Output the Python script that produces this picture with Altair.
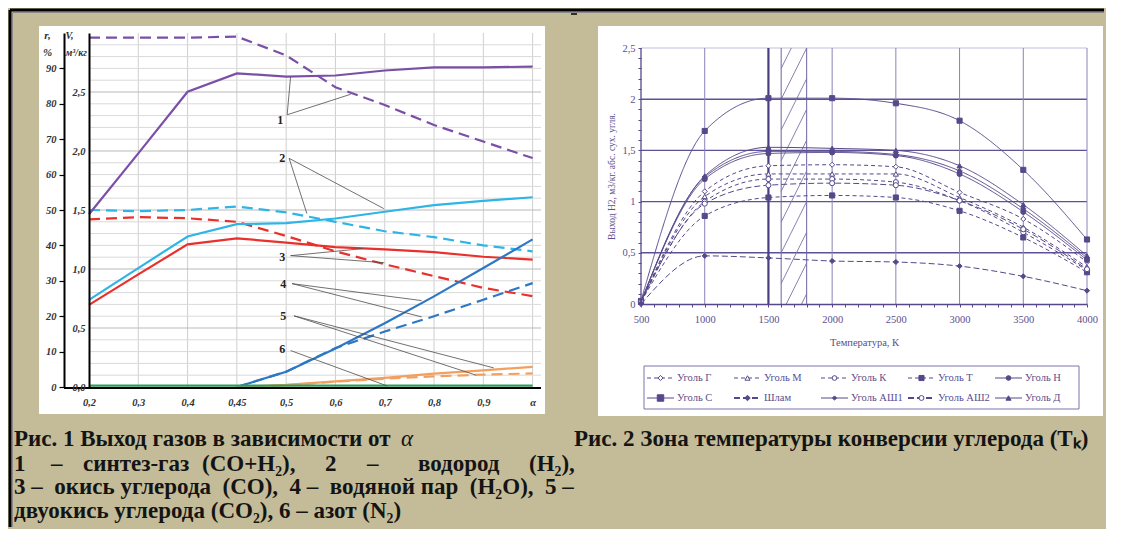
import altair as alt
import pandas as pd

SERIF = "Liberation Serif"
TAN = "#c4bc98"
INK = "#333333"

# ================= Fig. 1 : gas yield vs alpha =================
X_LABELS = ["0,2", "0,3", "0,4", "0,45", "0,5", "0,6", "0,7", "0,8", "0,9", "α"]
X_IDX = list(range(len(X_LABELS)))

GASES = ["CO+H2", "H2", "CO", "H2O", "CO2", "N2"]
GAS_COLORS = ["#7b4fa8", "#2fb4e6", "#e8312c", "#2c78c4", "#f2a060", "#2e9e60"]

# solid lines: r, %
R_SYN = [48.8, 66.0, 83.4, 88.6, 87.7, 88.0, 89.4, 90.3, 90.3, 90.5]
R_H2 = [24.6, 33.6, 42.5, 46.0, 46.3, 47.6, 49.5, 51.4, 52.6, 53.6]
R_CO = [23.2, 31.8, 40.3, 42.0, 40.8, 39.5, 38.9, 38.1, 36.8, 36.0]
R_H2O = [None, None, None, 0.0, 4.3, 10.9, 18.0, 25.6, 33.6, 41.7]
R_CO2 = [None, None, None, 0.0, 0.6, 1.6, 2.6, 3.8, 4.7, 5.7]
R_N2 = [0.4, 0.4, 0.4, 0.4, 0.4, 0.4, 0.4, 0.4, 0.4, 0.4]

# dashed lines: V, m3/kg
V_SYN = [2.96, 2.96, 2.96, 2.97, 2.81, 2.54, 2.39, 2.22, 2.08, 1.94]
V_H2 = [1.50, 1.49, 1.50, 1.53, 1.48, 1.40, 1.32, 1.27, 1.20, 1.15]
V_CO = [1.42, 1.44, 1.43, 1.40, 1.28, 1.15, 1.04, 0.94, 0.84, 0.77]
V_H2O = [None, None, None, 0.0, 0.13, 0.33, 0.47, 0.60, 0.74, 0.88]
V_CO2 = [None, None, None, 0.0, 0.015, 0.045, 0.07, 0.09, 0.105, 0.115]

R_TICKS = [0, 10, 20, 30, 40, 50, 60, 70, 80, 90]
V_TICKS = [0.0, 0.5, 1.0, 1.5, 2.0, 2.5]
V_GRID_MINOR = [round(i * 0.1, 1) for i in range(1, 30) if i % 5]
V_GRID_MAJOR = [0.5, 1.0, 1.5, 2.0, 2.5]

# callouts (in alpha index / r% units)
CALLOUT_TEXT = ["1", "2", "3", "4", "5", "6"]
CALLOUT_X = [3.88, 3.92, 3.92, 3.94, 3.94, 3.92]
CALLOUT_Y = [75.4, 64.6, 36.8, 29.2, 20.1, 10.8]
LEADER_X0 = [4.02, 4.02, 4.06, 4.06, 4.09, 4.09, 4.12, 4.12, 4.16, 4.16, 4.09]
LEADER_Y0 = [76.9, 76.9, 64.6, 64.6, 37.1, 37.1, 29.2, 29.2, 20.1, 20.1, 10.3]
LEADER_X1 = [4.09, 5.31, 5.98, 4.42, 5.56, 5.99, 6.75, 6.75, 8.21, 7.84, 6.05]
LEADER_Y1 = [87.7, 82.7, 50.4, 49.0, 39.1, 35.1, 24.4, 19.8, 5.4, 3.4, 0.3]

NB = "\u00a0"
CAPTION1_L1 = "Рис. 1 Выход газов в зависимости от"
CAPTION1_ALPHA = "α"
CAPTION1_L2 = ["1", "–", "синтез-газ", "(CO+H₂),", "2", "–", "водород", "(H₂),"]
CAPTION1_L3 = ("3 –" + NB + " окись углерода" + NB + " (CO)," + NB + " 4 –" + NB
               + " водяной пар" + NB + " (H₂O)," + NB + " 5 –")
CAPTION1_L4 = "двуокись углерода (CO₂), 6 – азот (N₂)"
CAPTION2 = "Рис. 2 Зона температуры конверсии углерода (Tₖ)"

# ================= Fig. 2 : H2 yield vs temperature =================
T_VALUES = [500, 1000, 1500, 2000, 2500, 3000, 3500, 4000]
COALS = ["Уголь Г", "Уголь М", "Уголь К", "Уголь Т", "Уголь Н",
         "Уголь С", "Шлам", "Уголь АШ1", "Уголь АШ2", "Уголь Д"]
Y_G = [0.02, 1.10, 1.35, 1.36, 1.34, 1.09, 0.83, 0.41]
Y_M = [0.02, 1.05, 1.27, 1.27, 1.27, 1.04, 0.75, 0.36]
Y_K = [0.02, 1.00, 1.22, 1.22, 1.19, 1.01, 0.70, 0.33]
Y_T = [0.02, 0.86, 1.04, 1.06, 1.04, 0.91, 0.65, 0.31]
Y_N = [0.02, 1.22, 1.47, 1.48, 1.45, 1.27, 0.90, 0.43]
Y_S = [0.03, 1.69, 2.01, 2.01, 1.96, 1.79, 1.31, 0.63]
Y_SL = [0.00, 0.47, 0.45, 0.42, 0.41, 0.37, 0.27, 0.13]
Y_A1 = [0.02, 1.24, 1.49, 1.49, 1.46, 1.30, 0.93, 0.45]
Y_A2 = [0.02, 0.98, 1.16, 1.18, 1.16, 1.01, 0.73, 0.34]
Y_D = [0.02, 1.25, 1.53, 1.52, 1.50, 1.35, 0.97, 0.47]

T_TICKS = list(range(500, 4001, 100))
H_TICKS = [round(i * 0.1, 1) for i in range(26)]
H_GRID = [0.5, 1.0, 1.5, 2.0]
T_GRID = [1000, 2000, 2500, 3000, 3500, 4000]
T_MARK = [1500]
BAND = [1600, 1800]
HATCH_START = [-0.4, -0.1, 0.2, 0.5, 0.8, 1.1, 1.4, 1.7, 2.0, 2.3]
HATCH_RISE = 0.5

# styles per coal
DASH_A = [4, 3]
DASH_B = [6, 3]
SOLID = [1, 0]
COAL_DASH = [DASH_A, DASH_A, DASH_A, DASH_A, SOLID, SOLID, DASH_B, SOLID, DASH_B, SOLID]
COAL_WIDTH = [1, 1, 1, 1, 1.2, 1, 1.7, 1, 1.7, 1]
COAL_SHAPE = ["diamond", "triangle-up", "circle", "square", "circle",
              "square", "diamond", "diamond", "circle", "triangle-up"]
COAL_SIZE = [26, 26, 22, 26, 22, 42, 30, 12, 24, 26]
PUR = "#56488a"
PUR_T = "#5a4e8c"
COAL_FILL = ["white", "white", "white", PUR, PUR, PUR, PUR, PUR, "white", PUR]


def long_frame(names, series, xs, xname, yname):
    rows = []
    for name, vals in zip(names, series):
        for x, v in zip(xs, vals):
            if v is not None:
                rows.append({xname: x, yname: v, "series": name})
    return pd.DataFrame(rows)


DUMMY = pd.DataFrame({"k": [0]})
CAP_SIZE = 23


def deco_text(text, x, y, size=CAP_SIZE, style="normal", weight="bold", align="left",
              color="#141414", font=SERIF):
    return alt.Chart(DUMMY).mark_text(
        font=font, fontSize=size, fontStyle=style, fontWeight=weight,
        align=align, baseline="middle", color=color
    ).encode(x=alt.value(x), y=alt.value(y), text=alt.value(text))


# ---------------- Left chart ----------------
W1, H1 = 452, 354
X1 = alt.Scale(domain=[0, 9.17], nice=False, zero=False)
R1 = alt.Scale(domain=[0, 100], nice=False, zero=False)
V1 = alt.Scale(domain=[0, 3], nice=False, zero=False)

label_expr = "[" + ",".join("'" + s + "'" for s in X_LABELS) + "][datum.value]"
X1_AXIS = alt.Axis(values=X_IDX, labelExpr=label_expr, domain=False, ticks=False, grid=False,
                   labelFont=SERIF, labelFontSize=10.5, labelFontStyle="italic",
                   labelFontWeight="bold", labelColor=INK, labelPadding=10,
                   labelFlush=False, labelOverlap=False, title=None, zindex=1)
R_AXIS = alt.Axis(orient="left", offset=25, values=R_TICKS, format="d",
                  domainColor="black", domainWidth=2, tickColor="black", tickSize=5,
                  tickWidth=1.2, labelFont=SERIF, labelFontSize=10.5, labelFontStyle="italic",
                  labelFontWeight="bold", labelColor=INK, labelPadding=3, grid=False,
                  labelFlush=False, labelOverlap=False,
                  title=["r,", "%"], titleAngle=0, titleX=-17, titleY=5, titleAlign="center",
                  titleBaseline="alphabetic", titleFont=SERIF, titleFontSize=11,
                  titleFontStyle="italic", titleFontWeight="bold", titleColor=INK,
                  titleLineHeight=17, zindex=1)
V_AXIS = alt.Axis(orient="left", offset=0, values=V_TICKS,
                  labelExpr="replace(format(datum.value, '.1f'), '.', ',')",
                  domainColor="black", domainWidth=2, ticks=False, grid=False,
                  labelFont=SERIF, labelFontSize=10.5, labelFontStyle="italic",
                  labelFontWeight="bold", labelColor=INK, labelPadding=4,
                  labelFlush=False, labelOverlap=False,
                  title=["V,", "м³/кг"], titleAngle=0, titleX=-24, titleY=5, titleAlign="left",
                  titleBaseline="alphabetic", titleFont=SERIF, titleFontSize=10,
                  titleFontStyle="italic", titleFontWeight="bold", titleColor=INK,
                  titleLineHeight=17, zindex=1)

df_r = long_frame(GASES, [R_SYN, R_H2, R_CO, R_H2O, R_CO2, R_N2], X_IDX, "idx", "val")
df_v = long_frame(GASES[:5], [V_SYN, V_H2, V_CO, V_H2O, V_CO2], X_IDX, "idx", "val")
GAS_SCALE = alt.Scale(domain=GASES, range=GAS_COLORS)

bg_left = alt.Chart(DUMMY).mark_rect(fill="white").encode(
    x=alt.value(-50), x2=alt.value(456), y=alt.value(-7), y2=alt.value(381))

vgrid_left = alt.Chart(pd.DataFrame({"idx": X_IDX[1:]})).mark_rule(
    stroke="#cfcfcf", strokeWidth=1).encode(
    x=alt.X("idx:Q", scale=X1, axis=X1_AXIS), y=alt.value(0), y2=alt.value(H1))

grid_minor = alt.Chart(pd.DataFrame({"val": V_GRID_MINOR})).mark_rule(
    stroke="#d9d9d9", strokeWidth=1).encode(
    y=alt.Y("val:Q", scale=V1, axis=V_AXIS), x=alt.value(0), x2=alt.value(W1))
grid_major = alt.Chart(pd.DataFrame({"val": V_GRID_MAJOR})).mark_rule(
    stroke="#b9b9b9", strokeWidth=1).encode(
    y=alt.Y("val:Q", scale=V1, axis=None), x=alt.value(0), x2=alt.value(W1))
dashed = alt.Chart(df_v).mark_line(strokeDash=[11, 6], strokeWidth=2.2).encode(
    x=alt.X("idx:Q", scale=X1, axis=X1_AXIS),
    y=alt.Y("val:Q", scale=V1, axis=None),
    color=alt.Color("series:N", scale=GAS_SCALE, legend=None))

solid = alt.Chart(df_r).mark_line(strokeWidth=2.2).encode(
    x=alt.X("idx:Q", scale=X1, axis=X1_AXIS),
    y=alt.Y("val:Q", scale=R1, axis=R_AXIS),
    color=alt.Color("series:N", scale=GAS_SCALE, legend=None))
leaders = alt.Chart(pd.DataFrame({"x0": LEADER_X0, "y0": LEADER_Y0, "x1": LEADER_X1, "y1": LEADER_Y1})).mark_rule(
    stroke="#4d4d4d", strokeWidth=0.8).encode(
    x=alt.X("x0:Q", scale=X1, axis=X1_AXIS), x2="x1:Q",
    y=alt.Y("y0:Q", scale=R1, axis=None), y2="y1:Q")
callouts = alt.Chart(pd.DataFrame({"lx": CALLOUT_X, "ly": CALLOUT_Y, "lt": CALLOUT_TEXT})).mark_text(
    font=SERIF, fontSize=12, fontWeight="bold", color="#222222", align="center", baseline="middle").encode(
    x=alt.X("lx:Q", scale=X1, axis=X1_AXIS), y=alt.Y("ly:Q", scale=R1, axis=None), text="lt:N")

x_line = alt.Chart(DUMMY).mark_rule(stroke="black", strokeWidth=2).encode(
    x=alt.value(-25), x2=alt.value(W1), y=alt.value(H1 + 1))

# page frame (double black/grey rule at the top and left edge)
border_top = alt.Chart(DUMMY).mark_rule(stroke="black", strokeWidth=3).encode(
    x=alt.value(-79), x2=alt.value(1015), y=alt.value(-23))
border_left = alt.Chart(DUMMY).mark_rule(stroke="black", strokeWidth=3).encode(
    x=alt.value(-79), y=alt.value(-23), y2=alt.value(494))
border_top2 = alt.Chart(DUMMY).mark_rule(stroke="#8a8a8a", strokeWidth=1).encode(
    x=alt.value(-76.5), x2=alt.value(1015), y=alt.value(-20.5))
border_left2 = alt.Chart(DUMMY).mark_rule(stroke="#8a8a8a", strokeWidth=1).encode(
    x=alt.value(-76.5), y=alt.value(-20.5), y2=alt.value(494))
page_tick = alt.Chart(DUMMY).mark_rule(stroke="black", strokeWidth=1.5).encode(
    x=alt.value(482), x2=alt.value(488), y=alt.value(-19))

CAP_X0 = -75
cap_layers = [deco_text(CAPTION1_L1, CAP_X0, 406),
              deco_text(CAPTION1_ALPHA, 312, 406, style="italic", weight="normal"),
              deco_text(CAPTION1_L3, CAP_X0, 454),
              deco_text(CAPTION1_L4, CAP_X0, 478)]
L2_POS = [-75, -38, -6, 113, 236, 278, 329, 440]
for word, px in zip(CAPTION1_L2, L2_POS):
    cap_layers.append(deco_text(word, px, 431))

left = alt.layer(bg_left, vgrid_left, grid_minor, grid_major, dashed, solid, leaders, callouts,
                 x_line, border_top, border_left, border_top2, border_left2, page_tick, *cap_layers
                 ).resolve_scale(y="independent").properties(width=W1, height=H1)

# ---------------- Right chart ----------------
W2, H2 = 446, 271
Y2_TOP = 2.5 * H2 / 256
X2 = alt.Scale(domain=[500, 4000], nice=False, zero=False)
Y2 = alt.Scale(domain=[0, Y2_TOP], nice=False, zero=False)

X2_AXIS = alt.Axis(values=T_TICKS, labelExpr="datum.value % 500 === 0 ? toString(datum.value) : ''",
                   tickSize=3, tickColor=PUR, domainColor=PUR, domainWidth=1.3, grid=False,
                   labelFont=SERIF, labelFontSize=10.5, labelColor=PUR_T, labelPadding=7,
                   labelFlush=False, labelOverlap=False,
                   title="Температура, К", titleFont=SERIF, titleFontSize=10.5,
                   titleFontWeight="normal", titleColor=PUR_T, titleY=38, titleBaseline="middle",
                   zindex=1)
Y2_AXIS = alt.Axis(values=H_TICKS,
                   labelExpr="abs(datum.value * 2 - round(datum.value * 2)) < 0.001 ? replace(toString(datum.value), '.', ',') : ''",
                   domain=False, tickSize=3, tickColor=PUR, grid=False,
                   labelFont=SERIF, labelFontSize=10.5, labelColor=PUR_T, labelPadding=3,
                   labelFlush=False, labelOverlap=False,
                   title="Выход Н2, м3/кг. абс. сух. угля.", titleFont=SERIF, titleFontSize=9.5,
                   titleFontWeight="normal", titleColor=PUR_T, titleAngle=270, titleX=-30,
                   titleY=143, titleAlign="center", titleBaseline="middle", zindex=1)


def XQ(field):
    return alt.X(field, scale=X2, axis=X2_AXIS)


def YQ(field):
    return alt.Y(field, scale=Y2, axis=Y2_AXIS)


df_h = long_frame(COALS, [Y_G, Y_M, Y_K, Y_T, Y_N, Y_S, Y_SL, Y_A1, Y_A2, Y_D], T_VALUES, "t", "h")

bg_right = alt.Chart(DUMMY).mark_rect(fill="white").encode(
    x=alt.value(-43), x2=alt.value(462), y=alt.value(-7), y2=alt.value(383))
hgrid = alt.Chart(pd.DataFrame({"h": H_GRID})).mark_rule(stroke="#5e5196", strokeWidth=1.4).encode(
    y=YQ("h:Q"), x=alt.value(0), x2=alt.value(W2))
top_line = alt.Chart(pd.DataFrame({"h": [2.5]})).mark_rule(stroke="#c3bddc", strokeWidth=1).encode(
    y=YQ("h:Q"), x=alt.value(0), x2=alt.value(W2))

vr = pd.DataFrame({"t": T_GRID, "h": [0] * len(T_GRID), "h2": [2.5] * len(T_GRID)})
tgrid = alt.Chart(vr).mark_rule(stroke="#8c82b8", strokeWidth=1).encode(
    x=XQ("t:Q"), y=YQ("h:Q"), y2="h2:Q")
be = pd.DataFrame({"t": BAND, "h": [0, 0], "h2": [2.5, 2.5]})
band_edges = alt.Chart(be).mark_rule(stroke="#6e62a2", strokeWidth=1).encode(
    x=XQ("t:Q"), y=YQ("h:Q"), y2="h2:Q")

hatch_rows = []
slope = HATCH_RISE / (BAND[1] - BAND[0])
for b in HATCH_START:
    x0, y0, x1, y1 = BAND[0], b, BAND[1], b + HATCH_RISE
    if y0 < 0:
        x0 = x0 + (0 - y0) / slope
        y0 = 0
    if y1 > 2.5:
        x1 = x1 - (y1 - 2.5) / slope
        y1 = 2.5
    hatch_rows.append({"t": x0, "h": y0, "t2": x1, "h2": y1})
hatch = alt.Chart(pd.DataFrame(hatch_rows)).mark_rule(stroke="#7d72ad", strokeWidth=0.9).encode(
    x=XQ("t:Q"), x2="t2:Q", y=YQ("h:Q"), y2="h2:Q")
tm = pd.DataFrame({"t": T_MARK, "h": [0], "h2": [2.5]})
tmark = alt.Chart(tm).mark_rule(stroke="#4a3d80", strokeWidth=2.2).encode(
    x=XQ("t:Q"), y=YQ("h:Q"), y2="h2:Q")
yl = pd.DataFrame({"t": [500], "h": [0], "h2": [2.5]})
y_line = alt.Chart(yl).mark_rule(stroke=PUR, strokeWidth=1.3).encode(
    x=XQ("t:Q"), y=YQ("h:Q"), y2="h2:Q")

coal_lines = alt.Chart(df_h).mark_line(color=PUR, interpolate="monotone").encode(
    x=XQ("t:Q"), y=YQ("h:Q"),
    strokeDash=alt.StrokeDash("series:N", scale=alt.Scale(domain=COALS, range=COAL_DASH), legend=None),
    strokeWidth=alt.StrokeWidth("series:N", scale=alt.Scale(domain=COALS, range=COAL_WIDTH), legend=None),
    detail="series:N")
coal_points = alt.Chart(df_h).mark_point(stroke=PUR, strokeWidth=1, opacity=1).encode(
    x=XQ("t:Q"), y=YQ("h:Q"),
    shape=alt.Shape("series:N", scale=alt.Scale(domain=COALS, range=COAL_SHAPE), legend=None),
    fill=alt.Fill("series:N", scale=alt.Scale(domain=COALS, range=COAL_FILL), legend=None),
    size=alt.Size("series:N", scale=alt.Scale(domain=COALS, range=COAL_SIZE), legend=None))

# ---- legend box (Excel style, 5 columns x 2 rows) ----
LEG_BOX = (3, 438, 333, 376)
LEG_X0, LEG_DX, LEG_Y0, LEG_DY, LEG_LINE = 6, 87, 345, 20, 27
legend_layers = [alt.Chart(DUMMY).mark_rect(fill="white", stroke="#7d72a8", strokeWidth=1).encode(
    x=alt.value(LEG_BOX[0]), x2=alt.value(LEG_BOX[1]), y=alt.value(LEG_BOX[2]), y2=alt.value(LEG_BOX[3]))]
for i, name in enumerate(COALS):
    sx = LEG_X0 + (i % 5) * LEG_DX
    sy = LEG_Y0 + (i // 5) * LEG_DY
    legend_layers.append(alt.Chart(DUMMY).mark_rule(
        stroke=PUR, strokeWidth=COAL_WIDTH[i] + (0.3 if COAL_WIDTH[i] > 1.5 else 0),
        strokeDash=COAL_DASH[i]).encode(
        x=alt.value(sx), x2=alt.value(sx + LEG_LINE), y=alt.value(sy)))
    legend_layers.append(alt.Chart(DUMMY).mark_point(
        shape=COAL_SHAPE[i], fill=COAL_FILL[i], stroke=PUR, strokeWidth=1, opacity=1,
        size=max(COAL_SIZE[i], 18)).encode(
        x=alt.value(sx + LEG_LINE / 2), y=alt.value(sy)))
    legend_layers.append(alt.Chart(DUMMY).mark_text(
        font=SERIF, fontSize=10.5, color=PUR_T, align="left", baseline="middle").encode(
        x=alt.value(sx + LEG_LINE + 3), y=alt.value(sy), text=alt.value(name)))

cap_right = deco_text(CAPTION2, -67, 406)

right = alt.layer(bg_right, hgrid, top_line, tgrid, band_edges, hatch, tmark, y_line,
                  coal_lines, coal_points, *legend_layers, cap_right
                  ).properties(width=W2, height=H2)

chart = alt.hconcat(left, right, spacing=100, bounds="flush").properties(
    padding=0, background=TAN
).configure_view(strokeWidth=0)

chart.save("out.html", embed_options={"renderer": "svg", "actions": False})
